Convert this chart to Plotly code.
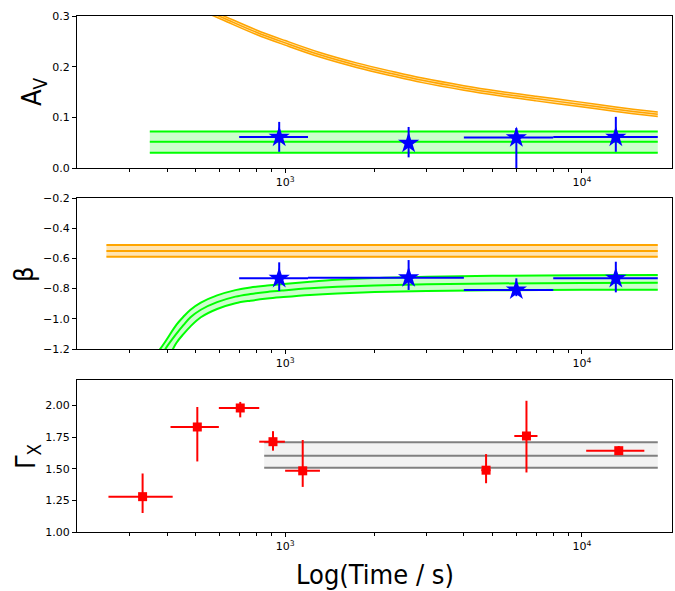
import math
import plotly.graph_objects as go

# ---------------- data ----------------
# optical SED fits (blue stars)
opt_t = [955, 2606, 6010, 13000]
opt_t_lo = [700, 1194, 4000, 8000]
opt_t_hi = [1194, 4000, 8000, 18000]
# top panel shows no horizontal bar for the second point
av_t_lo = [700, 2606, 4000, 8000]
av_t_hi = [1194, 2606, 8000, 18000]

av_val = [0.061, 0.049, 0.060, 0.061]
av_hi = [0.091, 0.081, 0.079, 0.101]
av_lo = [0.032, 0.021, -0.005, 0.032]

beta_val = [-0.732, -0.728, -0.809, -0.732]
beta_hi = [-0.626, -0.611, -0.732, -0.622]
beta_lo = [-0.816, -0.809, -0.850, -0.825]

# X-ray photon index (red squares)
gx_t = [331, 506, 706, 910, 1146, 4752, 6500, 13300]
gx_t_lo = [254, 411, 598, 818, 1000, 4580, 5915, 10330]
gx_t_hi = [418, 598, 818, 998, 1310, 4920, 7080, 16220]
gx_val = [1.279, 1.829, 1.979, 1.713, 1.483, 1.488, 1.758, 1.642]
gx_hi = [1.462, 1.987, 2.027, 1.796, 1.726, 1.615, 2.036, 1.679]
gx_lo = [1.150, 1.557, 1.905, 1.642, 1.356, 1.385, 1.470, 1.630]

# model bands
av_green_t = [350, 18000]
av_green_up = [0.072, 0.072]
av_green_mid = [0.052, 0.052]
av_green_dn = [0.030, 0.030]

av_orange_t = [500, 620, 800, 1000, 1300, 1740, 2300, 2900, 4000, 5260, 7000, 9770, 13000, 18000]
av_orange_mid = [0.320, 0.296, 0.268, 0.247, 0.224, 0.203, 0.186, 0.173, 0.158, 0.147, 0.137, 0.126, 0.116, 0.106]
av_orange_halfwidth = 0.0045

beta_orange_t = [250, 18000]
beta_orange_up = [-0.511, -0.511]
beta_orange_mid = [-0.551, -0.551]
beta_orange_dn = [-0.589, -0.589]

beta_green_t = [370, 395, 430, 455, 480, 520, 590, 680, 764, 870, 987, 1213, 1500, 2000, 3000, 5000, 10000, 18000]
beta_green_up = [-1.23, -1.15, -1.04, -0.985, -0.94, -0.893, -0.845, -0.81, -0.792, -0.78, -0.77, -0.755,
                 -0.742, -0.73, -0.721, -0.715, -0.712, -0.71]
beta_green_mid = [-1.30, -1.20, -1.10, -1.04, -0.99, -0.94, -0.89, -0.853, -0.836, -0.822, -0.812, -0.798,
                  -0.788, -0.779, -0.771, -0.766, -0.763, -0.761]
beta_green_dn = [-1.40, -1.30, -1.16, -1.10, -1.05, -0.99, -0.935, -0.897, -0.88, -0.866, -0.856, -0.842,
                 -0.832, -0.823, -0.816, -0.811, -0.808, -0.807]

gx_gray_t = [850, 18000]
gx_gray_up = [1.708, 1.708]
gx_gray_mid = [1.602, 1.602]
gx_gray_dn = [1.507, 1.507]

# ---------------- figure ----------------
ORANGE = "#FFA500"
ORANGE_FILL = "rgba(255,165,0,0.3)"
LIME = "#00FF00"
LIME_FILL = "rgba(0,255,0,0.2)"
GRAY = "#808080"
GRAY_FILL = "rgba(128,128,128,0.1)"

fig = go.Figure()


def band(t, dn, mid, up, color, fill, xa, ya, shape="linear", lw=2):
    fig.add_trace(go.Scatter(x=t, y=dn, mode="lines", line=dict(color=color, width=lw, shape=shape),
                             xaxis=xa, yaxis=ya, showlegend=False, hoverinfo="skip"))
    fig.add_trace(go.Scatter(x=t, y=up, mode="lines", line=dict(color=color, width=lw, shape=shape),
                             fill="tonexty", fillcolor=fill,
                             xaxis=xa, yaxis=ya, showlegend=False, hoverinfo="skip"))
    fig.add_trace(go.Scatter(x=t, y=mid, mode="lines", line=dict(color=color, width=lw, shape=shape),
                             xaxis=xa, yaxis=ya, showlegend=False, hoverinfo="skip"))


def points(t, t_lo, t_hi, v, v_lo, v_hi, color, symbol, size, xa, ya):
    fig.add_trace(go.Scatter(
        x=t, y=v, mode="markers",
        marker=dict(color=color, symbol=symbol, size=size, line=dict(width=0)),
        error_x=dict(type="data", symmetric=False,
                     array=[h - c for h, c in zip(t_hi, t)],
                     arrayminus=[c - l for l, c in zip(t_lo, t)],
                     color=color, thickness=2, width=0),
        error_y=dict(type="data", symmetric=False,
                     array=[h - c for h, c in zip(v_hi, v)],
                     arrayminus=[c - l for l, c in zip(v_lo, v)],
                     color=color, thickness=2, width=0),
        xaxis=xa, yaxis=ya, showlegend=False, cliponaxis=True))


# top panel (A_V)
av_orange_up = [v + av_orange_halfwidth for v in av_orange_mid]
av_orange_dn = [v - av_orange_halfwidth for v in av_orange_mid]
band(av_orange_t, av_orange_dn, av_orange_mid, av_orange_up, ORANGE, ORANGE_FILL, "x", "y", "spline", 1.5)
band(av_green_t, av_green_dn, av_green_mid, av_green_up, LIME, LIME_FILL, "x", "y")
points(opt_t, av_t_lo, av_t_hi, av_val, av_lo, av_hi, "blue", "star", 16, "x", "y")

# middle panel (beta)
band(beta_orange_t, beta_orange_dn, beta_orange_mid, beta_orange_up, ORANGE, ORANGE_FILL, "x2", "y2")
band(beta_green_t, beta_green_dn, beta_green_mid, beta_green_up, LIME, LIME_FILL, "x2", "y2", "spline")
points(opt_t, opt_t_lo, opt_t_hi, beta_val, beta_lo, beta_hi, "blue", "star", 16, "x2", "y2")

# bottom panel (Gamma_X)
band(gx_gray_t, gx_gray_dn, gx_gray_mid, gx_gray_up, GRAY, GRAY_FILL, "x3", "y3")
points(gx_t, gx_t_lo, gx_t_hi, gx_val, gx_lo, gx_hi, "red", "square", 9, "x3", "y3")

# ---------------- layout ----------------
W, H = 675, 591
ml, mr, mt, mb = 77, 3, 16, 59
ph = H - mt - mb
pw = W - ml - mr


def dom(top_px, bot_px):
    return [(H - mb - bot_px) / ph, (H - mb - top_px) / ph]


minor_vals = [300, 400, 500, 600, 700, 800, 900,
              2000, 3000, 4000, 5000, 6000, 7000, 8000, 9000]
tick_font = dict(family="DejaVu Sans", size=11, color="black")

xcommon = dict(type="log", range=[math.log10(199), math.log10(20100)],
               tickmode="array", tickvals=[1000, 10000],
               ticktext=["10<sup>3</sup>", "10<sup>4</sup>"],
               ticks="outside", ticklen=4, tickwidth=1, tickcolor="black",
               minor=dict(tickmode="array", tickvals=minor_vals, ticks="outside",
                          ticklen=2.5, tickwidth=1, tickcolor="black", showgrid=False),
               showline=True, mirror=True, linecolor="black", linewidth=1,
               showgrid=False, zeroline=False, tickfont=tick_font)
ycommon = dict(ticks="outside", ticklen=4, tickwidth=1, tickcolor="black",
               showline=True, mirror=True, linecolor="black", linewidth=1,
               showgrid=False, zeroline=False, tickfont=tick_font)

d1 = dom(16, 168)
d2 = dom(198, 349)
d3 = dom(380, 532)

fig.update_layout(
    width=W, height=H,
    margin=dict(l=ml, r=mr, t=mt, b=mb),
    paper_bgcolor="white", plot_bgcolor="white",
    xaxis=dict(**xcommon, anchor="y"),
    xaxis2=dict(**xcommon, anchor="y2"),
    xaxis3=dict(**xcommon, anchor="y3"),
    yaxis=dict(**ycommon, domain=d1, anchor="x", range=[0, 0.3],
               tickmode="array", tickvals=[0, 0.1, 0.2, 0.3], tickformat=".1f"),
    yaxis2=dict(**ycommon, domain=d2, anchor="x2", range=[-1.2, -0.2],
                tickmode="array", tickvals=[-1.2, -1.0, -0.8, -0.6, -0.4, -0.2], tickformat=".1f"),
    yaxis3=dict(**ycommon, domain=d3, anchor="x3", range=[1.0, 2.2],
                tickmode="array", tickvals=[1.0, 1.25, 1.5, 1.75, 2.0], tickformat=".2f"),
)

label_font = dict(family="Liberation Sans Narrow, DejaVu Sans Condensed, Liberation Sans, sans-serif",
                  size=27, color="black")


def px_x(x):
    return (x - ml) / pw


def px_y(y):
    return (H - mb - y) / ph


fig.add_annotation(text="A<sub>V</sub>", x=px_x(33), y=px_y(92), xref="paper", yref="paper",
                   textangle=-90, showarrow=False, font=label_font, xanchor="center", yanchor="middle")
fig.add_annotation(text="β", x=px_x(23), y=px_y(274), xref="paper", yref="paper",
                   textangle=-90, showarrow=False, font=label_font, xanchor="center", yanchor="middle")
fig.add_annotation(text="Γ<sub>X</sub>", x=px_x(27), y=px_y(456), xref="paper", yref="paper",
                   textangle=-90, showarrow=False, font=label_font, xanchor="center", yanchor="middle")
fig.add_annotation(text="Log(Time / s)", x=px_x(375), y=px_y(574), xref="paper", yref="paper",
                   showarrow=False, font=label_font, xanchor="center", yanchor="middle")

fig.write_html("out.html",
               config={"displayModeBar": False},
               post_script="document.body.style.margin='0';document.body.style.overflow='hidden';")
